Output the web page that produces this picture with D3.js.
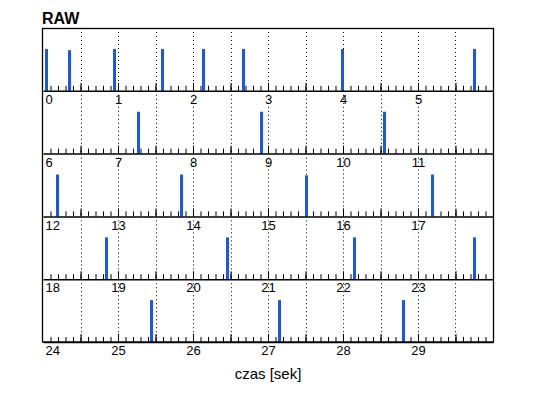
<!DOCTYPE html>
<html>
<head>
<meta charset="utf-8">
<script src="https://cdn.jsdelivr.net/npm/d3@7"></script>
<style>
  html, body { margin: 0; padding: 0; background: #fff; }
  svg { display: block; }
  text { font-family: "Liberation Sans", Arial, sans-serif; fill: #000; }
</style>
</head>
<body>
<svg id="chart" width="538" height="398"></svg>
<script>
// ---- data ----
const chartTitle = "RAW";
const axisTitle = "czas [sek]";
const rowStarts = [0, 6, 12, 18, 24];          // seconds at the start of each row
const rowSpan = 6;                             // seconds per row
const spikeTimes = [0.04, 0.35, 0.95, 1.59, 2.13, 2.67, 3.99, 5.74,
                    7.26, 8.90, 10.55,
                    12.19, 13.84, 15.50, 17.18,
                    18.84, 20.45, 22.15, 23.75,
                    25.44, 27.14, 28.80];
const spikeValues = [1.0, 0.97, 1.0, 1.0, 1.0, 1.0, 1.0, 1.0,
                     1.0, 1.0, 1.0,
                     1.0, 1.0, 0.98, 1.0,
                     1.0, 1.0, 1.0, 1.0,
                     1.0, 1.0, 1.0];
const yDomain = [0, 1.5];

// ---- layout ----
const W = 538, H = 398;
const plotLeft = 43, plotRight = 493, plotTop = 28, plotBottom = 342;
const rowH = (plotBottom - plotTop) / rowStarts.length;
const svg = d3.select("#chart");

svg.append("text")
  .attr("x", 42).attr("y", 24)
  .style("font-size", "16px").style("font-weight", "bold")
  .text(chartTitle);

rowStarts.forEach((start, r) => {
  const axisY = plotTop + (r + 1) * rowH;
  const topY = plotTop + r * rowH;
  const x = d3.scaleLinear().domain([start, start + rowSpan]).range([plotLeft, plotRight]);
  const y = d3.scaleLinear().domain(yDomain).range([axisY, topY]);
  const g = svg.append("g");

  // dotted grid at every half second
  const halfTicks = d3.range(1, rowSpan * 2).map(i => start + i * 0.5);
  g.selectAll("line.grid").data(halfTicks).join("line")
    .attr("class", "grid")
    .attr("x1", d => Math.round(x(d)) + 0.5).attr("x2", d => Math.round(x(d)) + 0.5)
    .attr("y1", topY + 4).attr("y2", axisY)
    .attr("stroke", "#000").attr("stroke-width", 1)
    .attr("stroke-dasharray", "1,3");

  // minor ticks (0.1 s)
  const minorTicks = d3.range(1, rowSpan * 10).map(i => start + i * 0.1);
  const minorAxis = d3.axisBottom(x).tickValues(minorTicks).tickSize(-5).tickSizeOuter(0).tickFormat("");
  g.append("g").attr("transform", `translate(0,${axisY})`).call(minorAxis)
    .call(s => s.select(".domain").remove())
    .call(s => s.selectAll(".tick line").attr("stroke", "#000"));

  // major ticks (0.5 s)
  const majorAxis = d3.axisBottom(x).tickValues(halfTicks).tickSize(-8).tickSizeOuter(0).tickFormat("");
  g.append("g").attr("transform", `translate(0,${axisY})`).call(majorAxis)
    .call(s => s.select(".domain").remove())
    .call(s => s.selectAll(".tick line").attr("stroke", "#000"));

  // spikes
  const rowData = spikeTimes.map((t, i) => ({t, v: spikeValues[i]}))
    .filter(d => d.t >= start && d.t < start + rowSpan);
  g.selectAll("rect.spike").data(rowData).join("rect")
    .attr("class", "spike")
    .attr("x", d => Math.round(x(d.t)) - 1)
    .attr("width", 3)
    .attr("y", d => y(d.v))
    .attr("height", d => axisY - y(d.v))
    .attr("fill", "#1a58e2");

  // axis line + integer labels
  const labels = d3.range(start, start + rowSpan);
  const labelAxis = d3.axisBottom(x).tickValues(labels).tickSize(0).tickPadding(4).tickSizeOuter(0)
    .tickFormat(d3.format("d"));
  g.append("g").attr("transform", `translate(0,${axisY})`).call(labelAxis)
    .call(s => s.select(".domain").attr("stroke", "#000").attr("stroke-width", 1.5))
    .call(s => s.selectAll(".tick text")
      .attr("fill", "#000")
      .style("font-family", "'Liberation Sans', Arial, sans-serif")
      .style("font-size", "13px")
      .attr("text-anchor", (d, i) => i === 0 ? "start" : "middle")
      .attr("x", (d, i) => i === 0 ? 2 : 0));
});

// outer frame
svg.append("rect")
  .attr("x", plotLeft - 0.5).attr("y", plotTop + 0.5)
  .attr("width", plotRight - plotLeft + 1).attr("height", plotBottom - plotTop - 0.5)
  .attr("fill", "none").attr("stroke", "#000").attr("stroke-width", 1.3);

svg.append("text")
  .attr("x", (plotLeft + plotRight) / 2).attr("y", 379)
  .attr("text-anchor", "middle")
  .style("font-size", "15px")
  .text(axisTitle);
</script>
</body>
</html>
